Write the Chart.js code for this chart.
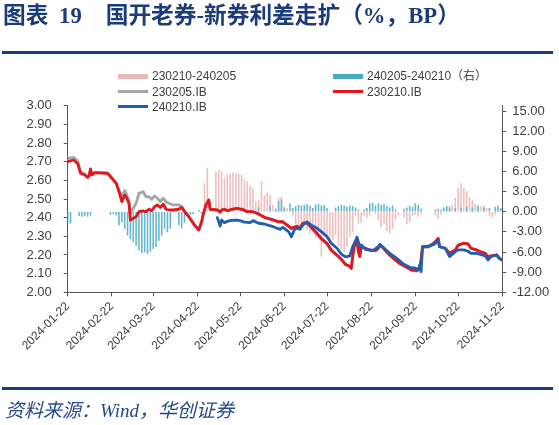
<!DOCTYPE html>
<html><head><meta charset="utf-8">
<script src="https://cdn.jsdelivr.net/npm/chart.js@4.4.1/dist/chart.umd.min.js"></script>
<style>
html,body{margin:0;padding:0;background:#fff;}
#wrap{position:relative;width:559px;height:425px;overflow:hidden;background:#fff;font-family:"Liberation Sans","Noto Sans CJK SC",sans-serif;}
#c{position:absolute;left:0;top:0;}
.title{position:absolute;top:3px;left:3px;font-family:"Liberation Serif","Noto Sans CJK SC",serif;font-weight:bold;font-size:22.7px;line-height:26px;color:#1b3b7b;white-space:nowrap;z-index:2;}
.rule{position:absolute;left:2px;width:551px;height:3px;background:#1b3b7b;z-index:2;}
.src{position:absolute;left:5px;top:400px;font-family:"Liberation Serif","Noto Sans CJK SC",serif;font-style:italic;font-size:19px;line-height:22px;color:#234a8c;white-space:nowrap;z-index:2;}
.lgsw{position:absolute;z-index:3;}
.lgtx{position:absolute;z-index:3;font-size:12px;line-height:14px;color:#404040;white-space:nowrap;}
</style></head>
<body>
<div id="wrap">
  <div class="title">图表 <span style="margin-left:5px">19</span><span style="margin-left:24px">国开老券-新券利差走扩（%，BP）</span></div>
  <div class="rule" style="top:51px"></div>
  <canvas id="c" width="559" height="425" style="width:559px;height:425px"></canvas>
  <div class="rule" style="top:387px"></div>
  <div class="src">资料来源：Wind，华创证券</div>
</div>
<script>
const YEAR = 2024;
const tickLabels = ['2024-01-22','2024-02-22','2024-03-22','2024-04-22','2024-05-22','2024-06-22','2024-07-22','2024-08-22','2024-09-22','2024-10-22','2024-11-22'];
const leftTicks = [2.0,2.1,2.2,2.3,2.4,2.5,2.6,2.7,2.8,2.9,3.0];
const rightTicks = [-12,-9,-6,-3,0,3,6,9,12,15];
const seriesNames = ['230210-240205','240205-240210（右）','230205.IB','230210.IB','240210.IB'];

// line series dates (MM-DD, 2024)
const lineDates = [
 '01-22','01-26','01-29','01-31',
 '02-03','02-05','02-06','02-07','02-08','02-10','02-19','02-21','02-25','02-27','02-29',
 '03-02','03-03','03-05','03-06','03-10','03-12','03-15','03-17','03-19','03-21','03-23','03-25','03-27','03-29','03-31',
 '04-02','04-05','04-09','04-11','04-13','04-16','04-20','04-23','04-25','04-26','04-28','04-30',
 '05-01','05-06','05-08','05-09','05-11','05-13','05-15','05-16','05-20','05-23','05-24','05-27','05-29','05-31',
 '06-04','06-08','06-13','06-17','06-19','06-21','06-25','06-27','06-29',
 '07-01','07-03','07-05','07-08','07-11','07-15','07-18','07-22','07-25','07-29',
 '08-01','08-04','08-07','08-08','08-09','08-10','08-12','08-13','08-14','08-15','08-18','08-21','08-23','08-25','08-27','08-28','08-30',
 '09-04','09-08','09-09','09-11','09-13','09-16','09-18','09-19','09-22','09-23','09-24','09-25','09-26','09-27',
 '10-01','10-05','10-08','10-09','10-13','10-16','10-20','10-22','10-26','10-29','10-31',
 '11-04','11-06','11-10','11-12','11-14','11-18','11-20','11-22'
];
const bond230205 = [
 2.718,2.723,2.705,2.646,
 2.634,2.616,2.623,2.662,2.632,2.641,2.638,2.622,2.588,2.548,2.512,
 2.545,2.530,2.490,2.423,2.477,2.530,2.539,2.512,2.512,2.498,2.516,2.504,2.486,2.504,2.486,
 2.477,2.468,2.468,2.460,2.435,2.405,2.360,2.334,2.378,2.414,2.468,2.495,
 2.445,2.441,2.430,2.440,2.445,2.437,2.442,2.445,2.450,2.445,2.443,2.432,2.432,2.432,
 2.420,2.402,2.391,2.380,2.378,2.377,2.352,2.340,2.347,
 2.352,2.340,2.366,2.370,2.343,2.310,2.283,2.257,2.222,2.195,
 2.173,2.146,2.137,2.127,2.190,2.243,2.280,2.218,2.192,2.244,2.234,2.225,null,2.222,2.235,2.250,2.240,
 2.198,2.170,null,2.152,null,2.132,null,2.118,null,2.114,null,2.127,2.170,2.242,
 2.243,2.262,2.287,2.244,2.235,2.208,2.226,2.252,2.262,2.258,2.235,
 2.226,2.219,2.208,2.190,2.194,2.199,2.181,2.172
];
const bond230210 = [
 2.700,2.709,2.690,2.638,
 2.629,2.616,2.623,2.660,2.630,2.641,2.638,2.620,2.584,2.539,2.486,
 2.521,2.512,2.477,2.387,2.405,2.432,2.436,2.432,2.445,2.437,2.459,2.468,2.455,2.473,2.445,
 2.441,2.441,2.445,2.455,2.432,2.405,2.360,2.334,2.378,2.414,2.468,2.495,
 2.445,2.441,2.430,2.440,2.445,2.437,2.442,2.445,2.450,2.445,2.443,2.432,2.432,2.432,
 2.420,2.402,2.391,2.380,2.378,2.378,2.355,2.343,2.350,
 2.355,2.343,2.370,2.373,2.348,2.316,2.289,2.263,2.227,2.200,
 2.178,2.150,2.140,2.129,2.191,2.244,2.284,2.218,2.191,2.244,2.236,2.227,null,2.223,2.236,2.253,2.241,
 2.200,2.173,null,2.155,null,2.134,null,2.120,null,2.116,null,2.129,2.173,2.244,
 2.244,2.263,2.289,2.244,2.236,2.209,2.227,2.253,2.263,2.259,2.236,
 2.227,2.220,2.209,2.191,2.195,2.200,2.182,2.173
];
const bond240210 = [
 null,null,null,null,
 null,null,null,null,null,null,null,null,null,null,null,
 null,null,null,null,null,null,null,null,null,null,null,null,null,null,null,
 null,null,null,null,null,null,null,null,null,null,null,null,
 null,2.400,2.355,2.387,2.373,2.380,2.384,2.385,2.387,2.382,2.378,2.375,2.373,2.384,
 2.370,2.366,2.355,2.343,2.338,2.348,2.325,2.298,2.334,
 2.345,2.338,2.360,2.378,2.360,2.343,2.325,2.298,2.263,2.236,
 2.205,2.190,2.195,null,2.244,null,2.295,null,2.244,2.253,2.230,null,2.223,null,2.244,2.257,2.244,
 2.209,null,2.182,null,2.155,null,2.134,null,2.129,null,2.120,2.146,2.110,2.244,
 2.247,2.257,2.277,2.244,2.236,2.191,2.218,2.227,2.227,2.220,2.209,
 2.209,2.205,2.195,2.173,2.191,2.200,2.182,2.173
];

// spread bars (BP, right axis)
const barDates = [
 '01-22','01-24','01-26','01-28','01-30',
 '02-01','02-03','02-05','02-07','02-09','02-11','02-13','02-15','02-17','02-19','02-21','02-23','02-25','02-27','02-29',
 '03-02','03-04','03-06','03-08','03-10','03-12','03-14','03-16','03-18','03-20','03-22','03-24','03-26','03-28','03-30',
 '04-01','04-03','04-05','04-07','04-09','04-11','04-13','04-15','04-17','04-19','04-21','04-23','04-25','04-27','04-29',
 '05-01','05-03','05-05','05-07','05-09','05-11','05-13','05-15','05-17','05-19','05-21','05-23','05-25','05-27','05-29','05-31',
 '06-02','06-04','06-06','06-08','06-10','06-12','06-14','06-16','06-18','06-20','06-22','06-24','06-26','06-28','06-30',
 '07-02','07-04','07-06','07-08','07-10','07-12','07-14','07-16','07-18','07-20','07-22','07-24','07-26','07-28','07-30',
 '08-01','08-03','08-05','08-07','08-09','08-11','08-13','08-15','08-17','08-19','08-21','08-23','08-25','08-27','08-29','08-31',
 '09-02','09-04','09-06','09-08','09-10','09-12','09-14','09-16','09-18','09-20','09-22','09-24','09-26','09-28','09-30',
 '10-02','10-04','10-06','10-08','10-10','10-12','10-14','10-16','10-18','10-20','10-22','10-24','10-26','10-28','10-30',
 '11-01','11-03','11-05','11-07','11-09','11-11','11-13','11-15','11-17','11-19','11-21'
];
const spread230210_240205 = [
 null,null,null,null,null,
 null,null,null,null,null,null,null,null,null,null,null,null,null,null,null,
 null,null,null,null,null,null,null,null,null,null,null,null,null,null,null,
 null,null,null,null,null,null,null,null,null,null,null,null,null,4.2,6.5,
 null,null,6.0,6.2,6.0,5.0,5.5,5.6,5.8,5.7,5.6,5.5,4.8,4.5,3.8,3.5,
 1.5,1.7,4.5,2.5,2.8,2.5,1.0,0.6,2.0,2.2,0.8,0.5,null,-0.5,-1.8,
 -2.0,-2.3,-1.5,-2.7,-3.2,-2.8,-3.7,-3.0,-6.6,-3.5,-4.0,-4.7,-4.2,-3.5,-5.0,
 -5.5,-6.0,-5.2,-3.7,-3.0,-0.5,-1.8,-1.5,-0.5,-0.8,-0.5,null,-0.3,-1.2,-2.3,-1.8,
 -2.8,-3.2,-2.5,-1.2,-0.5,null,-0.8,-1.8,-1.5,-0.6,-0.4,-0.7,-0.3,null,null,
 null,null,-0.5,-1.0,-0.4,null,0.3,0.5,1.0,2.0,3.5,4.2,3.5,3.0,2.2,
 1.7,1.2,1.0,0.8,0.8,0.5,-0.6,-0.8,-0.4,0.3,null
];
const spread240205_240210 = [
 -1.5,-1.7,null,null,-0.6,
 -0.7,-0.6,-0.7,-0.5,null,null,null,null,null,null,-0.4,-0.3,-0.5,-2.0,-1.5,
 -2.5,-3.5,-4.0,-4.5,-5.0,-5.7,-6.1,-6.0,-6.2,-5.9,-5.5,-5.2,-4.3,-3.5,-2.5,
 -3.0,-2.5,null,null,-2.0,-2.4,-1.6,-0.6,-0.4,-0.3,null,0.2,-0.2,null,null,
 null,null,null,null,null,null,null,null,null,null,null,null,null,null,null,null,
 null,0.6,null,null,null,0.8,null,0.3,1.5,1.8,0.5,null,1.2,0.5,0.8,
 1.0,0.9,1.0,1.1,0.9,0.5,1.0,1.1,0.9,1.0,0.5,null,null,0.6,0.8,
 1.0,0.9,0.7,0.9,0.8,0.6,0.3,null,0.3,0.5,1.2,1.3,0.9,1.2,1.0,1.1,
 0.8,0.6,0.9,0.3,null,null,0.4,0.6,0.8,0.7,1.2,1.0,0.4,null,null,
 null,null,0.3,0.4,0.3,0.6,0.8,0.7,null,0.5,null,0.6,null,0.7,null,
 0.6,null,0.8,null,0.6,null,0.5,null,0.7,0.9,0.5
];

const BASE = Date.UTC(2024,0,22);
function dayOf(s){
  const p = s.split('-').map(Number);
  const y = p.length === 3 ? p[0] : YEAR;
  const m = p.length === 3 ? p[1] : p[0];
  const d = p.length === 3 ? p[2] : p[1];
  return Math.round((Date.UTC(y, m - 1, d) - BASE) / 864e5);
}
function pts(dates, vals){
  const out = [];
  dates.forEach((d, i) => { if (vals[i] !== null && vals[i] !== undefined) out.push({x: dayOf(d), y: vals[i]}); });
  return out;
}

const tickFont = {family: '"Liberation Sans","Noto Sans CJK SC",sans-serif', size: 13};
const axisColor = '#595959';
const lineCommon = {type:'line', yAxisID:'y', pointRadius:0, borderWidth:2.8, tension:0, spanGaps:true, borderJoinStyle:'round', borderCapStyle:'round', fill:false};

const chart = new Chart(document.getElementById('c'), {
  type: 'line',
  data: { datasets: [
    {type:'bar', label: seriesNames[0], data: pts(barDates, spread230210_240205), yAxisID:'y1', backgroundColor:'#eebdbd', legendColor:'#e6b9b8', barThickness:0.9, grouped:false, order:5},
    {type:'bar', label: seriesNames[1], data: pts(barDates, spread240205_240210), yAxisID:'y1', backgroundColor:'#62b6d0', legendColor:'#4bacc6', barThickness:0.9, grouped:false, order:4},
    Object.assign({}, lineCommon, {label: seriesNames[2], data: pts(lineDates, bond230205), borderColor:'#a6a6a6', order:3}),
    Object.assign({}, lineCommon, {label: seriesNames[3], data: pts(lineDates, bond230210), borderColor:'#e3161e', order:2}),
    Object.assign({}, lineCommon, {label: seriesNames[4], data: pts(lineDates, bond240210), borderColor:'#1f5fb3', order:1})
  ]},
  options: {
    responsive:false, animation:false, devicePixelRatio: window.devicePixelRatio || 1,
    layout:{padding:{top:105.7, left:0, right:0, bottom:0}},
    plugins:{legend:{display:false}, tooltip:{enabled:false}, title:{display:false}},
    scales:{
      x:{type:'linear', position:'bottom', min:0, max:dayOf(tickLabels[tickLabels.length-1]), offset:false,
        afterBuildTicks: s => { s.ticks = tickLabels.map(t => ({value: dayOf(t)})); },
        afterFit: s => { s.height = 132.7; },
        grid:{display:true, drawOnChartArea:false, drawTicks:true, tickLength:4, color:axisColor, offset:false},
        border:{display:true, color:axisColor, width:1},
        ticks:{autoSkip:false, maxRotation:45, minRotation:45, padding:3, color:'#404040',
          font:{family:tickFont.family, size:12}, callback:(v, i) => tickLabels[i]}
      },
      y:{type:'linear', position:'left', min:2, max:3,
        afterBuildTicks: s => { s.ticks = leftTicks.map(v => ({value: v})); },
        afterFit: s => { s.width = 67.7; },
        grid:{display:true, drawOnChartArea:false, drawTicks:true, tickLength:4, color:axisColor},
        border:{display:true, color:axisColor, width:1},
        ticks:{padding:12, color:'#404040', font:tickFont, callback: v => Number(v).toFixed(2)}
      },
      y1:{type:'linear', position:'right', min:-12, max:15.8,
        afterBuildTicks: s => { s.ticks = rightTicks.map(v => ({value: v})); },
        afterFit: s => { s.width = 56.7; },
        grid:{display:true, drawOnChartArea:false, drawTicks:true, tickLength:4, color:axisColor},
        border:{display:true, color:axisColor, width:1},
        ticks:{padding:6, color:'#404040', font:tickFont, callback: v => Number(v).toFixed(2)}
      }
    }
  }
});

// custom legend (two columns, three rows) built from the datasets
const legendSlots = [{l:118,t:76.3},{l:333,t:76.3},{l:118,t:91.7},{l:333,t:91.7},{l:118,t:106.7}];
const wrap = document.getElementById('wrap');
chart.data.datasets.forEach((ds, i) => {
  const slot = legendSlots[i];
  const isBar = ds.type === 'bar';
  const sw = document.createElement('div');
  sw.className = 'lgsw';
  const h = isBar ? 5 : 2.6;
  sw.style.left = slot.l + 'px';
  sw.style.top = (slot.t - h / 2) + 'px';
  sw.style.width = '29.5px';
  sw.style.height = h + 'px';
  sw.style.background = isBar ? ds.legendColor : ds.borderColor;
  wrap.appendChild(sw);
  const tx = document.createElement('div');
  tx.className = 'lgtx';
  tx.textContent = ds.label;
  tx.style.left = (slot.l + 34) + 'px';
  tx.style.top = (slot.t - 7) + 'px';
  wrap.appendChild(tx);
});
</script>
</body></html>
